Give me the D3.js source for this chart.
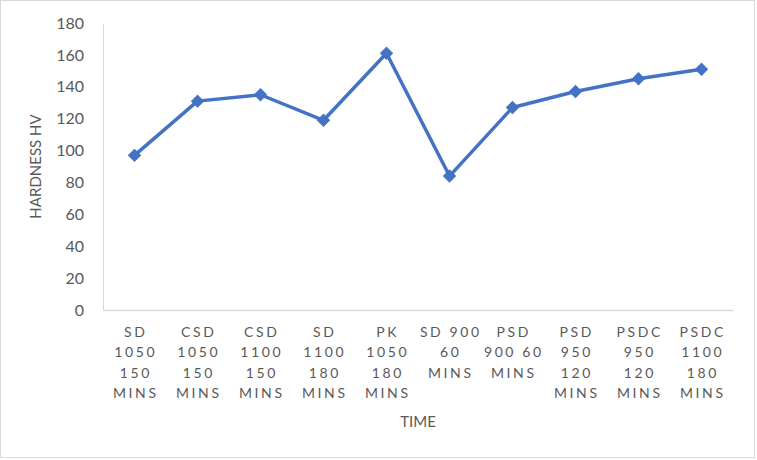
<!DOCTYPE html>
<html>
<head>
<meta charset="utf-8">
<script src="https://cdn.jsdelivr.net/npm/d3@7"></script>
<style>
  html, body { margin: 0; padding: 0; background: #fff; }
  svg { display: block; }
</style>
</head>
<body>
<svg id="chart" width="757" height="460"></svg>
<script>
// ---- data ----
const categories = [
  "SD 1050 150 MINS",
  "CSD 1050 150 MINS",
  "CSD 1100 150 MINS",
  "SD 1100 180 MINS",
  "PK 1050 180 MINS",
  "SD 900 60 MINS",
  "PSD 900 60 MINS",
  "PSD 950 120 MINS",
  "PSDC 950 120 MINS",
  "PSDC 1100 180 MINS"
];
const categoryLines = [
  ["SD", "1050", "150", "MINS"],
  ["CSD", "1050", "150", "MINS"],
  ["CSD", "1100", "150", "MINS"],
  ["SD", "1100", "180", "MINS"],
  ["PK", "1050", "180", "MINS"],
  ["SD 900", "60", "MINS"],
  ["PSD", "900 60", "MINS"],
  ["PSD", "950", "120", "MINS"],
  ["PSDC", "950", "120", "MINS"],
  ["PSDC", "1100", "180", "MINS"]
];
const hardness = [97, 131, 135, 119, 161, 84, 127, 137, 145, 151];
const yTicks = [0, 20, 40, 60, 80, 100, 120, 140, 160, 180];
const yTitle = "HARDNESS HV";
const xTitle = "TIME";

// ---- layout ----
const W = 757, H = 460;
const margin = { left: 103, right: 24, top: 23, bottom: 150 };
const svg = d3.select("#chart");
const font = "Lato, 'Open Sans', sans-serif";
const textColor = "#595959";

// outer border
svg.append("rect")
  .attr("x", 0.5).attr("y", 0.5)
  .attr("width", W - 3).attr("height", H - 3)
  .attr("fill", "#fff").attr("stroke", "#d9d9d9").attr("stroke-width", 1);

const x = d3.scaleBand()
  .domain(categories)
  .range([margin.left, W - margin.right])
  .padding(0);

const y = d3.scaleLinear()
  .domain([0, 180])
  .range([310, margin.top]);

// y axis
const yAxis = svg.append("g")
  .attr("transform", `translate(${margin.left},0)`)
  .call(d3.axisLeft(y).tickValues(yTicks).tickSize(0).tickPadding(19));
yAxis.select(".domain").attr("stroke", "#d9d9d9").attr("stroke-width", 1);
yAxis.selectAll("text")
  .attr("fill", textColor)
  .style("font-family", font)
  .style("font-size", "16px");

// x axis
const xAxis = svg.append("g")
  .attr("transform", `translate(0,${y(0)})`)
  .call(d3.axisBottom(x).tickSize(0).tickFormat(""));
xAxis.select(".domain").attr("stroke", "#d9d9d9").attr("stroke-width", 1.5);

// category labels (multi-line)
xAxis.selectAll(".tick").each(function(d, i) {
  const t = d3.select(this).append("text")
    .attr("fill", textColor)
    .attr("text-anchor", "middle")
    .style("font-family", font)
    .style("font-size", "14px")
    .style("letter-spacing", "2.6px");
  categoryLines[i].forEach((ln, j) => {
    t.append("tspan")
      .attr("x", 1.3)
      .attr("y", 27 + j * 20.3)
      .text(ln);
  });
});

// axis titles
svg.append("text")
  .attr("transform", `translate(41,${(y(0) + y(180)) / 2}) rotate(-90)`)
  .attr("text-anchor", "middle")
  .attr("fill", textColor)
  .style("font-family", font)
  .style("font-size", "15px")
  .text(yTitle);

svg.append("text")
  .attr("x", (margin.left + W - margin.right) / 2)
  .attr("y", 427)
  .attr("text-anchor", "middle")
  .attr("fill", textColor)
  .style("font-family", font)
  .style("font-size", "15px")
  .text(xTitle);

// line
const cx = (d, i) => x(categories[i]) + x.bandwidth() / 2;
const line = d3.line()
  .x((d, i) => cx(d, i))
  .y(d => y(d));

svg.append("path")
  .datum(hardness)
  .attr("fill", "none")
  .attr("stroke", "#4472C4")
  .attr("stroke-width", 3.5)
  .attr("stroke-linejoin", "round")
  .attr("d", line);

// diamond markers
const sym = d3.symbol().type(d3.symbolSquare).size(72);
svg.selectAll(".marker")
  .data(hardness)
  .enter().append("path")
  .attr("class", "marker")
  .attr("d", sym)
  .attr("fill", "#4472C4")
  .attr("stroke", "#4472C4")
  .attr("stroke-width", 1)
  .attr("transform", (d, i) => `translate(${cx(d, i)},${y(d)}) rotate(45)`);
</script>
</body>
</html>
